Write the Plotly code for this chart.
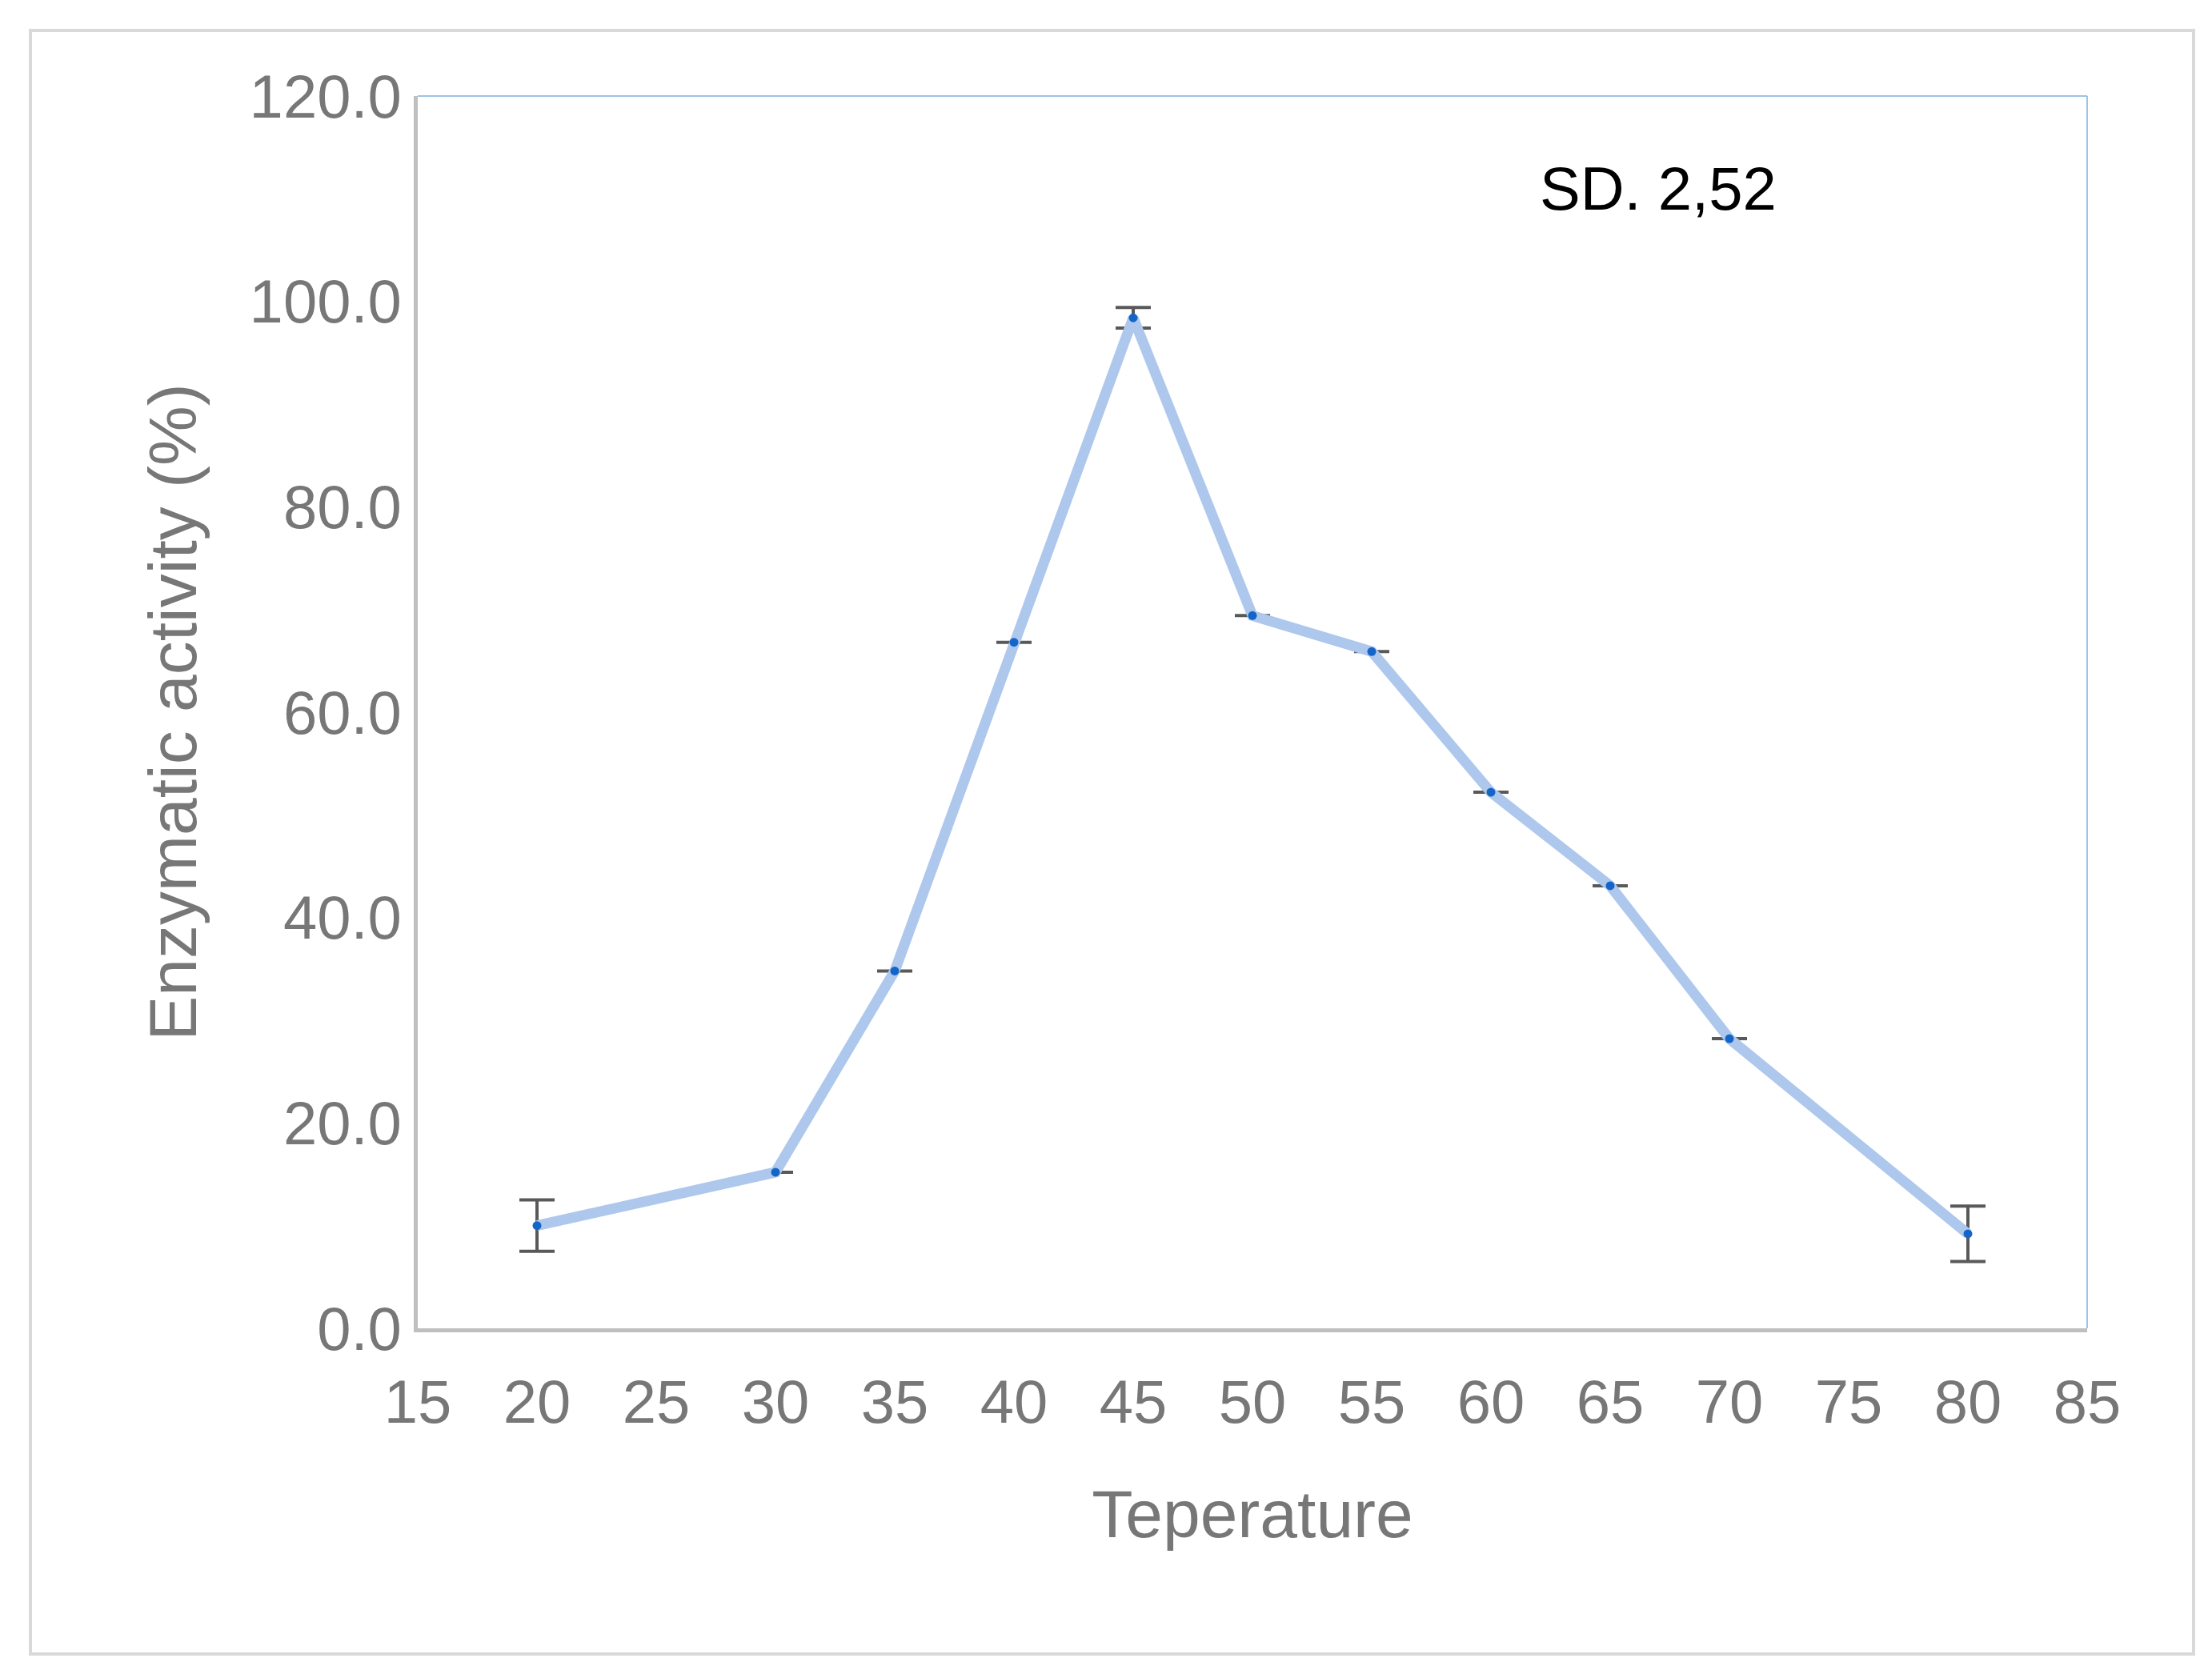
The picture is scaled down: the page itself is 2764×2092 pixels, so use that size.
import plotly.graph_objects as go

temps = [20, 30, 35, 40, 45, 50, 55, 60, 65, 70, 80]
activity = [10.0, 15.2, 34.8, 66.8, 98.4, 69.4, 65.9, 52.2, 43.1, 28.2, 9.2]
errors = [2.5, 0, 0, 0, 1.0, 0, 0, 0, 0, 0, 2.7]
x_ticks = list(range(15, 90, 5))
y_ticks = [0, 20, 40, 60, 80, 100, 120]

W, H = 2764, 2092
L, R, T, B = 514, 2600, 112, 1652
font = "Liberation Sans Narrow, Liberation Sans, Arial"

fig = go.Figure()
fig.add_trace(go.Scatter(
    x=temps, y=activity, mode="lines+markers",
    line=dict(color="#adc8ec", width=13),
    marker=dict(color="#1565c8", size=11),
    error_y=dict(type="data", array=errors, color="#595959", thickness=4, width=22),
    showlegend=False))

fig.update_layout(
    width=W, height=H, paper_bgcolor="white", plot_bgcolor="white",
    margin=dict(l=L, r=W - R, t=T, b=H - B),
    xaxis=dict(range=[15, 85], tickvals=x_ticks, showgrid=False, zeroline=False,
               showline=True, linecolor="#bfbfbf", linewidth=5,
               ticks="outside", ticklen=22, tickcolor="rgba(0,0,0,0)",
               tickfont=dict(family=font, size=76, color="#777777"),
               title=dict(text="Teperature", font=dict(family=font, size=84, color="#777777"), standoff=70)),
    yaxis=dict(range=[0, 120], tickvals=y_ticks, tickformat=".1f", showgrid=False, zeroline=False,
               showline=True, linecolor="#bfbfbf", linewidth=5, ticks="",
               tickfont=dict(family=font, size=76, color="#777777"),
               title=dict(text="Enzymatic activity (%)", font=dict(family=font, size=84, color="#777777"), standoff=40)),
    shapes=[
        dict(type="line", xref="paper", yref="paper", x0=0, x1=1, y0=1, y1=1, line=dict(color="#9dc3e6", width=2)),
        dict(type="line", xref="paper", yref="paper", x0=1, x1=1, y0=0, y1=1, line=dict(color="#9dc3e6", width=2)),
        dict(type="rect", xref="paper", yref="paper",
             x0=(30 - L) / (R - L), x1=(2733 - L) / (R - L),
             y0=(B - 2059) / (B - T), y1=(B - 30) / (B - T),
             line=dict(color="#d9d9d9", width=4), layer="below"),
    ],
    annotations=[dict(text="SD. 2,52", x=67, y=111, xref="x", yref="y", showarrow=False,
                      font=dict(family=font, size=76, color="black"))],
)
fig.write_html("out.html")
